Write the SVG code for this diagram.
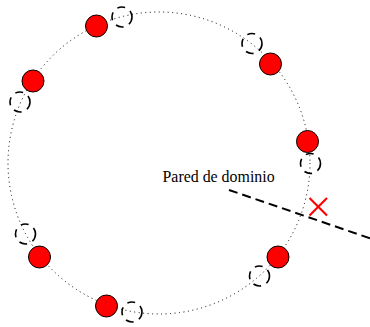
<svg xmlns="http://www.w3.org/2000/svg" width="370" height="327" viewBox="0 0 370 327">
<style>
.ring{fill:none;stroke:#000;stroke-width:1;stroke-dasharray:1,3.5}
.ghost{fill:none;stroke:#000;stroke-width:1.6;stroke-dasharray:8,6}
.spin{fill:#f00;stroke:#000;stroke-width:1}
.wall{stroke:#000;stroke-width:2;stroke-dasharray:9,5}
.x{stroke:#f00;stroke-width:2.2}
.lbl{font-family:"Liberation Serif",serif;font-size:15.9px;fill:#000}
</style>
<g id="connectors">
<circle class="ring" cx="159" cy="163" r="151"/>
<line class="wall" x1="229" y1="190" x2="372" y2="239"/>
</g>
<g id="ghosts">
<circle id="g1" class="ghost" cx="122" cy="17" r="10"/>
<circle id="g2" class="ghost" cx="252" cy="43.5" r="10"/>
<circle id="g3" class="ghost" cx="20" cy="102" r="10"/>
<circle id="g4" class="ghost" cx="310.5" cy="163.5" r="10"/>
<circle id="g5" class="ghost" cx="25.5" cy="234" r="10"/>
<circle id="g6" class="ghost" cx="259.5" cy="276" r="10"/>
<circle id="g7" class="ghost" cx="132" cy="312" r="10"/>
</g>
<g id="spins">
<circle id="s1" class="spin" cx="96.5" cy="26" r="11"/>
<circle id="s2" class="spin" cx="270.5" cy="64" r="11"/>
<circle id="s3" class="spin" cx="33" cy="81" r="11"/>
<circle id="s4" class="spin" cx="307.5" cy="141.5" r="11"/>
<circle id="s5" class="spin" cx="39.5" cy="257" r="11"/>
<circle id="s6" class="spin" cx="278" cy="257" r="11"/>
<circle id="s7" class="spin" cx="106.5" cy="306" r="11"/>
</g>
<g id="cross">
<line class="x" x1="309.5" y1="198" x2="327" y2="215.5"/>
<line class="x" x1="327" y1="198" x2="309.5" y2="215.5"/>
</g>
<g id="label">
<text class="lbl" x="162.5" y="182">Pared de dominio</text>
</g>
</svg>
